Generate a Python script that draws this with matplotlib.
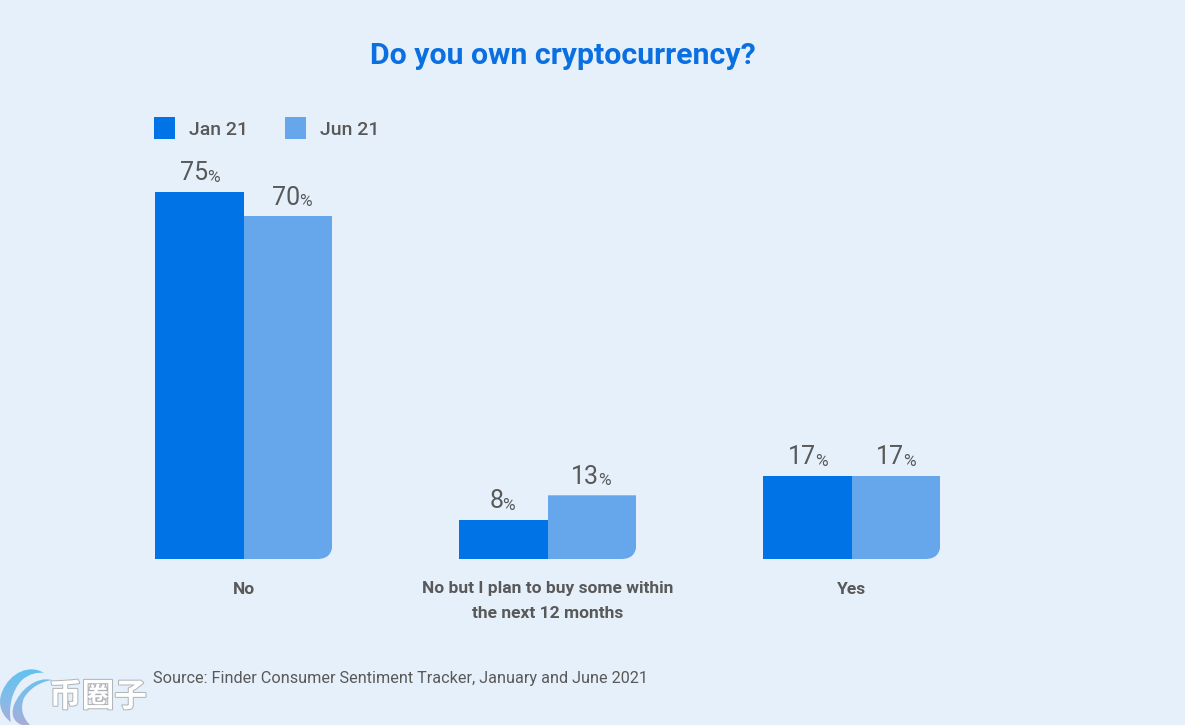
import matplotlib
matplotlib.use("Agg")
import matplotlib.pyplot as plt
import matplotlib.patheffects as pe
from matplotlib.path import Path
from matplotlib.colors import LinearSegmentedColormap
import numpy as np

# ---- data ----
categories = ["No", "No but I plan to buy some within\nthe next 12 months", "Yes"]
series_names = ["Jan 21", "Jun 21"]
jan_values = [75, 8, 17]
jun_values = [70, 13, 17]
title_text = "Do you own cryptocurrency?"
source_text = "Source: Finder Consumer Sentiment Tracker, January and June 2021"
watermark_text = "币圈子"

BG = "#e6f0fb"
C_JAN = "#0073e6"
C_JUN = "#66a6ea"
C_TEXT = "#595959"
W, H = 1185, 725
FONT = ["Roboto", "DejaVu Sans"]

plt.rcParams["font.family"] = FONT
fig = plt.figure(figsize=(W / 100, H / 100), dpi=100, facecolor=BG)

# chart axes, positioned in pixels (left 91.8, right 1003.8, baseline 559, 4.9 px per %)
y_top_val = 80
ax = fig.add_axes([91.8 / W, (H - 559) / H, 912 / W, y_top_val * 4.9 / H])
ax.set_facecolor("none")
ax.set_xlim(-0.5, 2.5)
ax.set_ylim(0, y_top_val)
for s in ax.spines.values():
    s.set_visible(False)
ax.set_yticks([])

bw = 88.5 / 304
x = np.arange(len(categories))
bars_jan = ax.bar(x - bw / 2, jan_values, bw, color=C_JAN, label=series_names[0], linewidth=0)
bars_jun = ax.bar(x + bw / 2, jun_values, bw, color=C_JUN, label=series_names[1], linewidth=0)

# rounded bottom-right corner on the second bar of each group
rx, ry = 15 / 304, 15 / 4.9
for b in bars_jun:
    x0, x1 = b.get_x(), b.get_x() + b.get_width()
    y1 = b.get_height()
    verts = [(x0, 0), (x1 - rx, 0), (x1, 0), (x1, ry), (x1, y1), (x0, y1), (x0, 0)]
    codes = [Path.MOVETO, Path.LINETO, Path.CURVE3, Path.CURVE3, Path.LINETO, Path.LINETO, Path.CLOSEPOLY]
    b.set_clip_path(Path(verts, codes), ax.transData)

ax.set_xticks(x, categories)
ax.tick_params(axis="x", length=0, pad=16.2)
for t in ax.get_xticklabels():
    t.set_fontsize(12.55)
    t.set_fontweight(600)
    t.set_color(C_TEXT)
    t.set_linespacing(1.75)
    t.set_verticalalignment("top")

# value labels: big number + small percent sign, centred together over each bar
renderer = fig.canvas.get_renderer()
def value_label(xc, v, dx=0.0):
    n = ax.annotate(str(v), (xc, v), xytext=(0, 4), textcoords="offset points", ha="left", va="bottom",
                    fontsize=18, color=C_TEXT)
    p = ax.annotate("%", (xc, v), xytext=(0, 4), textcoords="offset points", ha="left", va="bottom",
                    fontsize=12.5, color=C_TEXT)
    wn = n.get_window_extent(renderer).width * 72 / 100
    wp = p.get_window_extent(renderer).width * 72 / 100
    n.xyann = (dx - (wn + wp) / 2, 4.6)
    p.xyann = (dx - (wn + wp) / 2 + wn - 0.6, 5.0)

jan_dx = [0.7, -0.7, 0.7]
jun_dx = [2.8, -0.4, 0.0]
for xi, v, d in zip(x - bw / 2, jan_values, jan_dx):
    value_label(xi, v, d)
for xi, v, d in zip(x + bw / 2, jun_values, jun_dx):
    value_label(xi, v, d)

# overlay in pixel coordinates for the page furniture
ov = fig.add_axes([0, 0, 1, 1], zorder=3)
ov.set_facecolor("none")
ov.axis("off")
ov.set_xlim(0, W)
ov.set_ylim(H, 0)

ov.text(563, 56, title_text, ha="center", va="center", fontsize=21.8, fontweight="bold", color="#0a6fe0")
ov.text(153, 678, source_text, ha="left", va="center", fontsize=11.69, color=C_TEXT)

leg = ov.legend(handles=[bars_jan, bars_jun], labels=series_names, loc="upper left",
                bbox_to_anchor=(154, 117), bbox_transform=ov.transData, ncol=2, frameon=False,
                borderpad=0, borderaxespad=0, handlelength=1.08, handleheight=1.4,
                handletextpad=0.72, columnspacing=1.9, labelcolor=C_TEXT,
                prop={"size": 14, "weight": 500})

# watermark
c1 = [(44, 673), (30, 664), (10, 672), (2, 692), (-3, 704), (2, 716), (11, 722),
      (8, 708), (12, 690), (22, 680), (29, 674), (37, 672), (44, 673)]
c2 = [(52, 680), (36, 676), (20, 690), (14, 705), (10, 716), (14, 726), (32, 727),
      (22, 718), (20, 708), (24, 698), (30, 688), (40, 682), (52, 680)]
def bez(pts):
    return Path(pts, [Path.MOVETO] + [Path.CURVE4] * 12)
clip = Path.make_compound_path(bez(c1), bez(c2))
cmap = LinearSegmentedColormap.from_list("logo", ["#5cc3f2", "#7fbdea", "#a9acd8"])
im = ov.imshow(np.linspace(0, 1, 64).reshape(-1, 1), extent=(-3, 56, 727, 664), cmap=cmap, aspect="auto", zorder=1)
im.set_clip_path(clip, ov.transData)
ov.set_xlim(0, W)
ov.set_ylim(H, 0)
ov.text(49, 697, watermark_text, ha="left", va="center", fontsize=23.5, fontweight="bold",
        family=["Noto Sans CJK SC", "DejaVu Sans"], color="#ffffff", zorder=2,
        path_effects=[pe.withStroke(linewidth=1.4, foreground="#aeb2b6")])

fig.savefig("out.png", dpi=100, facecolor=BG)
